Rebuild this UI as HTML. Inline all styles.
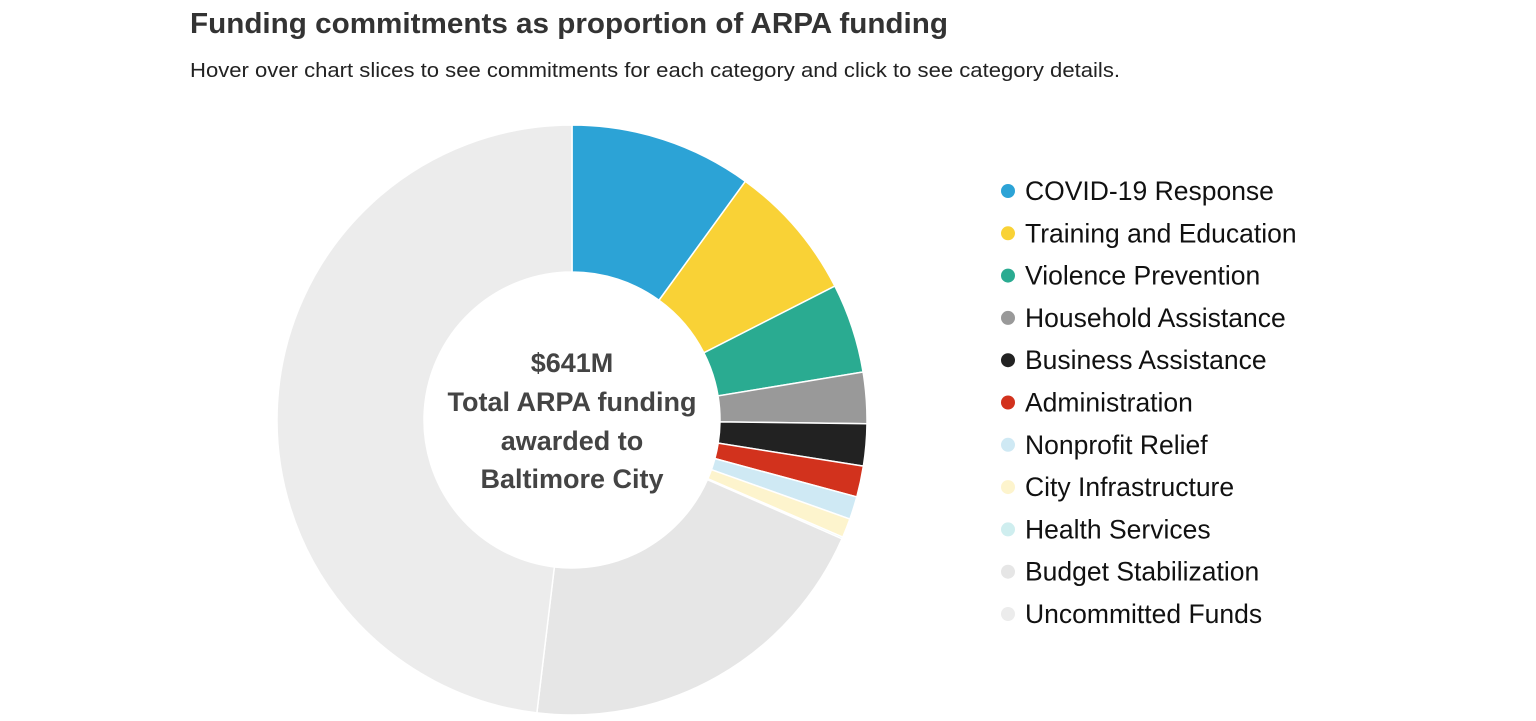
<!DOCTYPE html>
<html><head><meta charset="utf-8">
<style>
html,body{margin:0;padding:0;background:#fff;width:1536px;height:721px;overflow:hidden;font-family:"Liberation Sans",sans-serif;}
</style></head>
<body>
<svg width="1536" height="721" viewBox="0 0 1536 721">
<text x="190" y="33" font-size="29" font-weight="bold" fill="#333" textLength="758" lengthAdjust="spacingAndGlyphs">Funding commitments as proportion of ARPA funding</text>
<text x="190" y="77" font-size="20" fill="#222" textLength="930" lengthAdjust="spacingAndGlyphs">Hover over chart slices to see commitments for each category and click to see category details.</text>
<g id="slices"></g>
<g font-size="27" font-weight="bold" fill="#444" text-anchor="middle">
<text x="572" y="372">$641M</text>
<text x="572" y="411">Total ARPA funding</text>
<text x="572" y="450">awarded to</text>
<text x="572" y="488">Baltimore City</text>
</g>
<g id="legend"></g>
</svg>
<script>
const categories=["COVID-19 Response","Training and Education","Violence Prevention","Household Assistance","Business Assistance","Administration","Nonprofit Relief","City Infrastructure","Health Services","Budget Stabilization","Uncommitted Funds"];
const values=[10.0,7.5,4.9,2.8,2.3,1.7,1.25,1.05,0.1,20.3,48.1];
const colors=["#2ca3d6","#f9d236","#2aab91","#999999","#222222","#d2321d","#cfe9f4","#fdf4cd","#cfeeef","#e6e6e6","#ececec"];
const NS="http://www.w3.org/2000/svg";
const cx=572,cy=420,R=295,r=148;
const total=values.reduce((a,b)=>a+b,0);
const sg=document.getElementById('slices');
let acc=0;
function pt(a,rad){return [cx+rad*Math.sin(a),cy-rad*Math.cos(a)];}
values.forEach((v,i)=>{
  const a0=acc/total*2*Math.PI;acc+=v;const a1=acc/total*2*Math.PI;
  const lg=(a1-a0)>Math.PI?1:0;
  const p0=pt(a0,R),p1=pt(a1,R),q1=pt(a1,r),q0=pt(a0,r);
  const p=document.createElementNS(NS,'path');
  p.setAttribute('d',`M${p0[0]},${p0[1]}A${R},${R} 0 ${lg} 1 ${p1[0]},${p1[1]}L${q1[0]},${q1[1]}A${r},${r} 0 ${lg} 0 ${q0[0]},${q0[1]}Z`);
  p.setAttribute('fill',colors[i]);p.setAttribute('stroke','#fff');p.setAttribute('stroke-width','1.5');
  
  
  sg.appendChild(p);
});
const lgd=document.getElementById('legend');
categories.forEach((c,i)=>{
  const y=191+i*42.3;
  const g=document.createElementNS(NS,'g');
  
  
  const ci=document.createElementNS(NS,'circle');
  ci.setAttribute('cx',1008);ci.setAttribute('cy',y);ci.setAttribute('r',7);ci.setAttribute('fill',colors[i]);
  const t=document.createElementNS(NS,'text');
  t.setAttribute('x',1025);t.setAttribute('y',y+9);t.setAttribute('font-size','26.5');t.setAttribute('fill','#111');
  t.textContent=c;
  g.appendChild(ci);g.appendChild(t);lgd.appendChild(g);
});
</script>
</body></html>
